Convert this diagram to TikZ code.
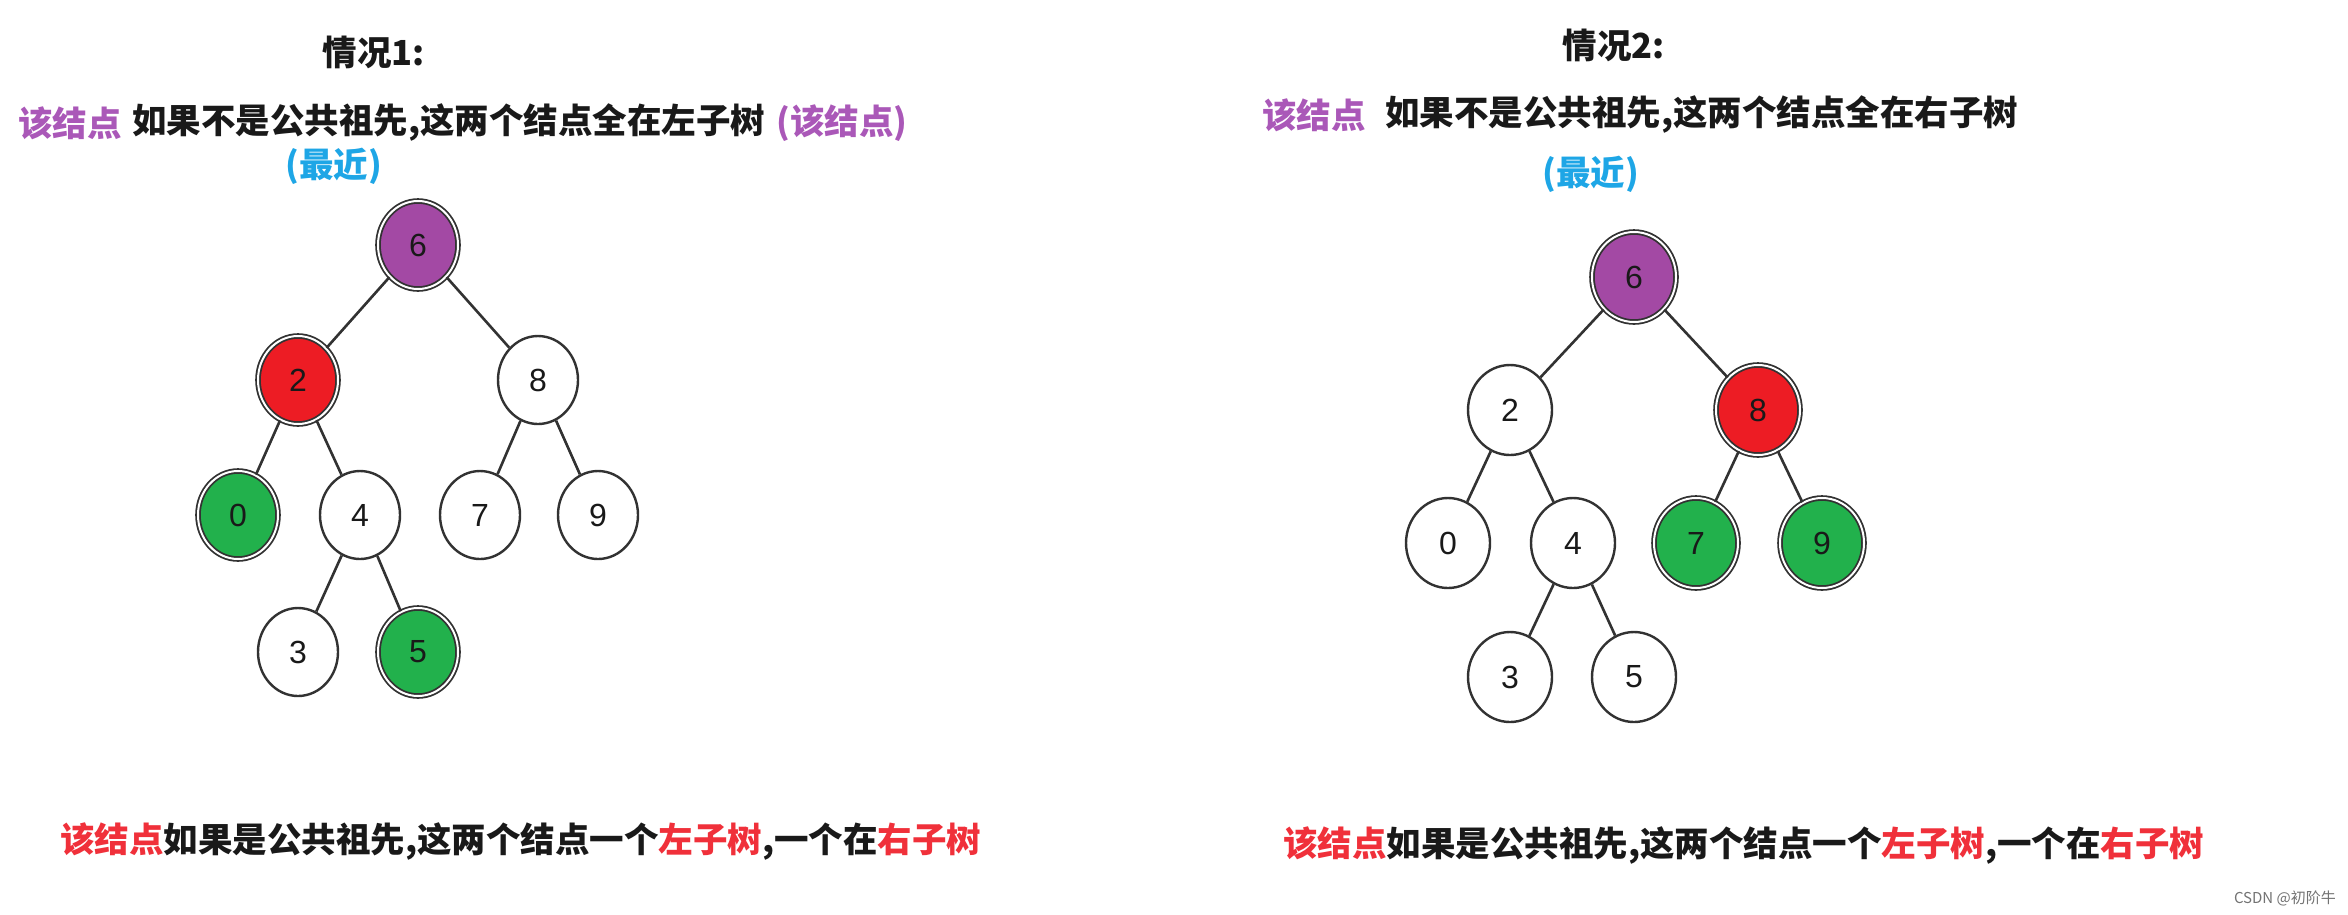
\documentclass[tikz,border=0pt]{standalone}
\usepackage{fontspec}
\usetikzlibrary{shapes.geometric}
\newfontfamily\cjk{Noto Sans CJK SC}
\newfontfamily\digitfont{Liberation Sans}
\definecolor{npurple}{RGB}{163,73,164}
\definecolor{nred}{RGB}{237,28,36}
\definecolor{ngreen}{RGB}{34,177,76}
\definecolor{tpurple}{RGB}{170,88,184}
\definecolor{tblue}{RGB}{30,166,230}
\definecolor{tred}{RGB}{240,48,58}
\definecolor{tblack}{RGB}{25,25,25}
\definecolor{edgec}{RGB}{50,50,50}
\tikzset{
  tn/.style={ellipse, draw=edgec, line width=2.4pt, fill=white, minimum width=80pt, minimum height=88pt, inner sep=0pt, font=\digitfont\fontsize{32}{32}\selectfont, text=tblack},
  tnr/.style={tn, minimum width=84pt, minimum height=90pt},
  hl/.style={line width=1.8pt, double=white, double distance=2pt, fill=#1},
  ed/.style={draw=edgec, line width=2.6pt},
  txt/.style={inner sep=0pt, font=\cjk\bfseries\fontsize{34.5}{40}\selectfont, text=tblack},
}
\begin{document}
\begin{tikzpicture}[x=1pt,y=-1pt]
\useasboundingbox[fill=white] (0,0) rectangle (2348,914);

% ---------- case 1 ----------
\node[txt] (h1) at (374,52) {情况1:};
\node[txt, anchor=west, text=tpurple] (a1) at (18,123) {该结点};
\node[txt, anchor=west] (b1) at (132,123) {如果不是公共祖先,这两个结点全在左子树};
\node[txt, anchor=west, text=tpurple] (c1) at (776,123) {(该结点)};
\node[txt, anchor=west, text=tblue] (d1) at (285,166) {(最近)};

\node[tn, hl=npurple] (L6) at (418,245) {6};
\node[tn, hl=nred] (L2) at (298,380) {2};
\node[tn] (L8) at (538,380) {8};
\node[tn, hl=ngreen] (L0) at (238,515) {0};
\node[tn] (L4) at (360,515) {4};
\node[tn] (L7) at (480,515) {7};
\node[tn] (L9) at (598,515) {9};
\node[tn] (L3) at (298,652) {3};
\node[tn, hl=ngreen] (L5) at (418,652) {5};
\draw[ed] (L6) -- (L2);
\draw[ed] (L6) -- (L8);
\draw[ed] (L2) -- (L0);
\draw[ed] (L2) -- (L4);
\draw[ed] (L8) -- (L7);
\draw[ed] (L8) -- (L9);
\draw[ed] (L4) -- (L3);
\draw[ed] (L4) -- (L5);

\node[txt, anchor=west] (e1) at (60,841) {\textcolor{tred}{该结点}如果是公共祖先,这两个结点一个\textcolor{tred}{左子树},一个在\textcolor{tred}{右子树}};

% ---------- case 2 ----------
\node[txt] (h2) at (1614,45) {情况2:};
\node[txt, anchor=west, text=tpurple] (a2) at (1262,115) {该结点};
\node[txt, anchor=west] (b2) at (1385,115) {如果不是公共祖先,这两个结点全在右子树};
\node[txt, anchor=west, text=tblue] (d2) at (1542,174) {(最近)};

\node[tnr, hl=npurple] (R6) at (1634,277) {6};
\node[tnr] (R2) at (1510,410) {2};
\node[tnr, hl=nred] (R8) at (1758,410) {8};
\node[tnr] (R0) at (1448,543) {0};
\node[tnr] (R4) at (1573,543) {4};
\node[tnr, hl=ngreen] (R7) at (1696,543) {7};
\node[tnr, hl=ngreen] (R9) at (1822,543) {9};
\node[tnr] (R3) at (1510,677) {3};
\node[tnr] (R5) at (1634,677) {5};
\draw[ed] (R6) -- (R2);
\draw[ed] (R6) -- (R8);
\draw[ed] (R2) -- (R0);
\draw[ed] (R2) -- (R4);
\draw[ed] (R8) -- (R7);
\draw[ed] (R8) -- (R9);
\draw[ed] (R4) -- (R3);
\draw[ed] (R4) -- (R5);

\node[txt, anchor=west] (e2) at (1283,845) {\textcolor{tred}{该结点}如果是公共祖先,这两个结点一个\textcolor{tred}{左子树},一个在\textcolor{tred}{右子树}};

\node[inner sep=0pt, anchor=east, font=\cjk\fontsize{15}{18}\selectfont, text=black!55] (wm) at (2336,898) {CSDN @初阶牛};
\end{tikzpicture}
\end{document}
